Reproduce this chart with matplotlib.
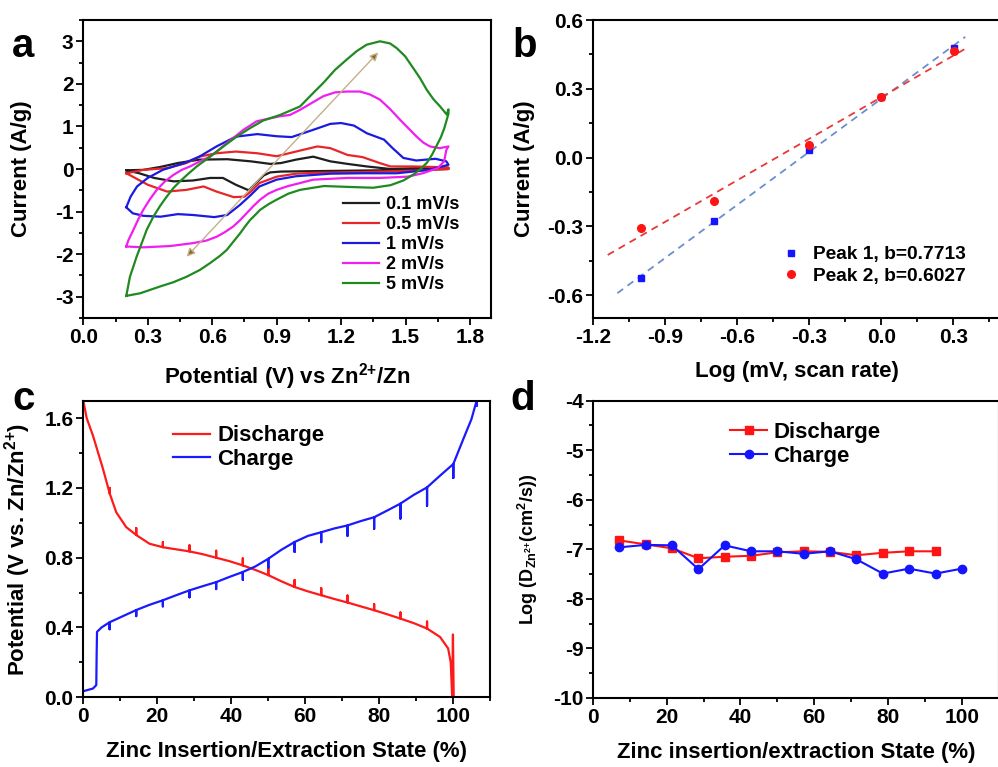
import numpy as np
import matplotlib
matplotlib.use('Agg')
import matplotlib.pyplot as plt
from matplotlib.ticker import MultipleLocator

plt.rcParams['font.family'] = ['Liberation Sans', 'DejaVu Sans']
plt.rcParams['font.weight'] = 'bold'
plt.rcParams['axes.labelweight'] = 'bold'
plt.rcParams['axes.unicode_minus'] = False
plt.rcParams['mathtext.fontset'] = 'custom'
plt.rcParams['mathtext.rm'] = 'Liberation Sans:bold'
plt.rcParams['mathtext.it'] = 'Liberation Sans:bold'
plt.rcParams['mathtext.bf'] = 'Liberation Sans:bold'
plt.rcParams['mathtext.default'] = 'rm'

# ---- panel a: CV curves, anodic branch (left->right) and cathodic branch (right->left)
cv_labels = ['0.1 mV/s', '0.5 mV/s', '1 mV/s', '2 mV/s', '5 mV/s']
cv_colors = ['#1e1e1e', '#e8262a', '#1a1ae0', '#f01ef0', '#1f8a1f']

cv01_up_x = [0.20, 0.28, 0.36, 0.44, 0.54, 0.67, 0.78, 0.87, 0.92, 0.99, 1.07, 1.15, 1.23, 1.32, 1.43, 1.55, 1.70]
cv01_up_y = [-0.03, -0.02, 0.05, 0.14, 0.22, 0.23, 0.18, 0.12, 0.14, 0.22, 0.29, 0.18, 0.12, 0.06, 0.0, 0.02, 0.03]
cv01_lo_x = [1.70, 1.55, 1.40, 1.23, 1.07, 0.92, 0.87, 0.84, 0.81, 0.78, 0.77, 0.71, 0.65, 0.59, 0.51, 0.42, 0.33, 0.26, 0.20]
cv01_lo_y = [0.0, -0.02, -0.03, -0.04, -0.05, -0.06, -0.08, -0.15, -0.30, -0.45, -0.50, -0.37, -0.21, -0.21, -0.27, -0.29, -0.21, -0.10, -0.03]

cv05_up_x = [0.20, 0.28, 0.39, 0.48, 0.54, 0.62, 0.71, 0.81, 0.90, 0.99, 1.09, 1.15, 1.23, 1.30, 1.38, 1.43, 1.54, 1.69, 1.70]
cv05_up_y = [-0.10, -0.02, 0.02, 0.14, 0.29, 0.37, 0.41, 0.37, 0.30, 0.41, 0.53, 0.49, 0.33, 0.28, 0.14, 0.06, 0.06, 0.04, 0.03]
cv05_lo_x = [1.70, 1.54, 1.38, 1.23, 1.07, 0.99, 0.90, 0.82, 0.78, 0.75, 0.70, 0.62, 0.56, 0.48, 0.39, 0.30, 0.23, 0.20]
cv05_lo_y = [0.0, -0.04, -0.06, -0.08, -0.09, -0.11, -0.18, -0.33, -0.53, -0.65, -0.66, -0.53, -0.41, -0.49, -0.53, -0.37, -0.18, -0.10]

cv1_up_x = [0.20, 0.22, 0.25, 0.30, 0.37, 0.47, 0.54, 0.62, 0.71, 0.81, 0.90, 0.97, 1.07, 1.15, 1.20, 1.26, 1.32, 1.40, 1.44, 1.49, 1.55, 1.64, 1.69, 1.70]
cv1_up_y = [-0.90, -0.65, -0.41, -0.21, -0.02, 0.14, 0.29, 0.53, 0.76, 0.82, 0.77, 0.75, 0.92, 1.06, 1.08, 1.02, 0.84, 0.69, 0.49, 0.26, 0.20, 0.24, 0.18, 0.10]
cv1_lo_x = [1.70, 1.61, 1.46, 1.30, 1.15, 0.99, 0.90, 0.82, 0.78, 0.73, 0.67, 0.61, 0.51, 0.44, 0.36, 0.28, 0.23, 0.20]
cv1_lo_y = [0.10, -0.02, -0.10, -0.10, -0.11, -0.17, -0.25, -0.41, -0.61, -0.84, -1.08, -1.13, -1.08, -1.06, -1.12, -1.10, -1.04, -0.90]

cv2_up_x = [0.20, 0.21, 0.233, 0.256, 0.279, 0.31, 0.342, 0.38, 0.419, 0.458, 0.497, 0.543, 0.59, 0.628, 0.668, 0.706,
            0.745, 0.807, 0.86, 0.916, 0.962, 1.009, 1.063, 1.117, 1.172, 1.226, 1.288, 1.335, 1.381, 1.428, 1.474,
            1.513, 1.552, 1.583, 1.614, 1.66, 1.70]
cv2_up_y = [-1.82, -1.67, -1.43, -1.18, -0.96, -0.71, -0.49, -0.29, -0.14, -0.02, 0.06, 0.18, 0.29, 0.44, 0.61, 0.76,
            0.92, 1.12, 1.18, 1.24, 1.27, 1.39, 1.55, 1.71, 1.80, 1.82, 1.82, 1.75, 1.63, 1.41, 1.16,
            0.96, 0.76, 0.62, 0.53, 0.49, 0.53]
cv2_lo_x = [1.70, 1.69, 1.68, 1.65, 1.58, 1.51, 1.38, 1.23, 1.07, 1.009, 0.954, 0.90, 0.861, 0.823, 0.792, 0.76, 0.73,
            0.698, 0.66, 0.621, 0.574, 0.512, 0.404, 0.279, 0.20]
cv2_lo_y = [0.53, 0.45, 0.18, 0.02, -0.10, -0.18, -0.21, -0.21, -0.25, -0.33, -0.40, -0.49, -0.58, -0.72, -0.87, -1.04, -1.20,
            -1.35, -1.48, -1.59, -1.68, -1.74, -1.81, -1.84, -1.82]

cv5_up_x = [0.20, 0.217, 0.233, 0.248, 0.272, 0.295, 0.326, 0.357, 0.388, 0.419, 0.45, 0.489, 0.528, 0.574, 0.621,
            0.668, 0.714, 0.776, 0.838, 0.916, 1.009, 1.071, 1.117, 1.172, 1.226, 1.273, 1.319, 1.381, 1.428,
            1.459, 1.498, 1.536, 1.567, 1.599, 1.63, 1.661, 1.692, 1.70]
cv5_up_y = [-2.98, -2.53, -2.29, -2.06, -1.74, -1.43, -1.12, -0.87, -0.65, -0.45, -0.29, -0.11, 0.06, 0.23, 0.41,
            0.59, 0.76, 0.96, 1.14, 1.27, 1.47, 1.79, 2.02, 2.33, 2.57, 2.77, 2.92, 3.00, 2.95,
            2.84, 2.65, 2.37, 2.14, 1.86, 1.64, 1.47, 1.28, 1.40]
cv5_lo_x = [1.70, 1.69, 1.68, 1.665, 1.645, 1.625, 1.60, 1.57, 1.54, 1.49, 1.43, 1.35, 1.23, 1.12, 1.009, 0.954, 0.90,
            0.861, 0.823, 0.80, 0.776, 0.753, 0.73, 0.698, 0.668, 0.636, 0.59, 0.543, 0.481, 0.419, 0.357, 0.264, 0.20]
cv5_lo_y = [1.30, 1.12, 0.95, 0.75, 0.55, 0.35, 0.15, 0.0, -0.12, -0.27, -0.38, -0.44, -0.42, -0.40, -0.49, -0.58, -0.72,
            -0.83, -0.96, -1.08, -1.20, -1.35, -1.51, -1.71, -1.90, -2.04, -2.21, -2.37, -2.53, -2.66, -2.76, -2.92, -2.98]

# ---- panel b: log(peak current) vs log(scan rate)
log_rate = [-1.0, -0.699, -0.301, 0.0, 0.301]
peak1 = [-0.525, -0.277, 0.034, 0.263, 0.477]
peak2 = [-0.306, -0.188, 0.056, 0.263, 0.466]

# ---- panel c: GITT profile (base points + relaxation spike height at each step)
dis_x = [0, 0.9, 2.6, 5.3, 7.1, 8.9, 11.6, 14.3, 17.9, 21.5, 25.1, 28.7, 32.3, 35.9, 39.5, 43.1, 46.5, 50.0,
         53.5, 57.1, 60.7, 64.3, 67.9, 71.4, 75.0, 78.6, 82.1, 85.7, 89.3, 92.9, 96.4, 98.6, 99.3, 99.7, 99.9, 100.1]
dis_y = [1.70, 1.60, 1.50, 1.31, 1.17, 1.06, 0.975, 0.93, 0.88, 0.86, 0.848, 0.836, 0.82, 0.80, 0.78, 0.756, 0.73, 0.70,
         0.665, 0.632, 0.607, 0.585, 0.563, 0.543, 0.521, 0.499, 0.476, 0.451, 0.425, 0.394, 0.346, 0.28, 0.20, 0.0, 0.36, 0.0]
dis_spike = [0, 0, 0, 0, 0.03, 0, 0, 0.04, 0, 0.03, 0, 0.035, 0, 0.04, 0, 0.04, 0, 0.045,
             0, 0.04, 0, 0.04, 0, 0.04, 0, 0.035, 0, 0.035, 0, 0.04, 0, 0, 0, 0, 0, 0]

chg_x = [0, 2.6, 3.5, 3.6, 3.7, 4.9, 7.1, 10.7, 14.3, 17.9, 21.5, 25.1, 28.7, 32.3, 35.9, 39.5, 43.1, 46.5, 50.0,
         53.5, 57.1, 60.7, 64.3, 67.9, 71.4, 75.0, 78.6, 82.1, 85.7, 89.3, 92.9, 96.4, 100.0, 102.7, 104.9, 106.3, 107.0]
chg_y = [0.035, 0.05, 0.07, 0.25, 0.375, 0.40, 0.43, 0.465, 0.50, 0.53, 0.556, 0.585, 0.613, 0.637, 0.66, 0.69, 0.718, 0.75, 0.794,
         0.845, 0.89, 0.925, 0.946, 0.968, 0.985, 1.01, 1.032, 1.07, 1.11, 1.16, 1.203, 1.27, 1.337, 1.48, 1.594, 1.70, 1.75]
chg_spike = [0, 0, 0, 0, 0, 0, -0.04, 0, -0.035, 0, -0.035, 0, -0.04, 0, -0.04, 0, -0.045, 0, -0.05,
             0, -0.057, 0, -0.057, 0, -0.06, 0, -0.067, 0, -0.086, 0, -0.105, 0, -0.08, 0, 0, -0.03, 0]

# ---- panel d: diffusion coefficient
state = [7.1, 14.3, 21.4, 28.6, 35.7, 42.9, 50.0, 57.1, 64.3, 71.4, 78.6, 85.7, 92.9, 100.0]
logD_dis = [-6.82, -6.90, -6.98, -7.18, -7.15, -7.13, -7.06, -7.04, -7.05, -7.12, -7.07, -7.04, -7.04]
logD_chg = [-6.96, -6.91, -6.92, -7.40, -6.92, -7.04, -7.04, -7.09, -7.04, -7.20, -7.49, -7.39, -7.49, -7.39]


def style(ax):
    ax.tick_params(which='both', direction='out', top=False, right=False, labelsize=15, width=1.3, pad=2)
    ax.tick_params(which='major', length=5)
    ax.tick_params(which='minor', length=3)
    for s in ax.spines.values():
        s.set_linewidth(1.5)


def with_spikes(xs, ys, spikes):
    px, py = [], []
    for x, y, s in zip(xs, ys, spikes):
        px.append(x)
        py.append(y)
        if s != 0:
            px += [x, x]
            py += [y + s, y]
    return px, py


fig = plt.figure(figsize=(9.98, 7.67), dpi=100)

# ---------------- a
ax = fig.add_axes([0.0835, 0.5854, 0.4089, 0.3885])
cv_sets = [(cv01_up_x, cv01_up_y, cv01_lo_x, cv01_lo_y),
           (cv05_up_x, cv05_up_y, cv05_lo_x, cv05_lo_y),
           (cv1_up_x, cv1_up_y, cv1_lo_x, cv1_lo_y),
           (cv2_up_x, cv2_up_y, cv2_lo_x, cv2_lo_y),
           (cv5_up_x, cv5_up_y, cv5_lo_x, cv5_lo_y)]
for (ux, uy, lx, ly), c, lab in zip(cv_sets, cv_colors, cv_labels):
    ax.plot(ux + lx, uy + ly, color=c, lw=1.6, label=lab, solid_joinstyle='round')
ax.annotate('', xy=(1.373, 2.74), xytext=(0.481, -2.06),
            arrowprops=dict(arrowstyle='<|-|>', ec='#c4b08a', fc='#8a6a20', lw=1.0,
                            mutation_scale=12, shrinkA=0, shrinkB=0))
ax.set_xlim(0, 1.9)
ax.set_ylim(-3.5, 3.5)
ax.xaxis.set_minor_locator(MultipleLocator(0.15))
ax.yaxis.set_major_locator(MultipleLocator(1))
ax.yaxis.set_minor_locator(MultipleLocator(0.5))
ax.set_xticks(np.arange(0, 1.81, 0.3))
ax.set_xticklabels(['0.0', '0.3', '0.6', '0.9', '1.2', '1.5', '1.8'])
style(ax)
ax.set_xlabel('Potential (V) vs Zn$^{2{+}}$/Zn', fontsize=16)
ax.set_ylabel('Current (A/g)', fontsize=16)
ax.xaxis.set_label_coords(0.5, -0.145)
ax.yaxis.set_label_coords(-0.125, 0.5)
ax.legend(loc='upper left', bbox_to_anchor=(0.636, 0.41), frameon=False, fontsize=13,
          borderpad=0, handlelength=2.0, handletextpad=0.4, labelspacing=0.17, borderaxespad=0)

# ---------------- b
ax = fig.add_axes([0.5945, 0.5854, 0.4088, 0.3885])
fx1 = np.array([-1.10, 0.35])
fx2 = np.array([-1.14, 0.35])
k1 = np.polyfit(log_rate, peak1, 1)
k2 = np.polyfit(log_rate, peak2, 1)
ax.plot(fx1, np.polyval(k1, fx1), color='#6a8fd0', lw=1.3, ls=(0, (4, 3)))
ax.plot(fx2, np.polyval(k2, fx2), color='#e8393a', lw=1.3, ls=(0, (4, 3)))
ax.plot(log_rate, peak1, 's', color='#1414ff', ms=5, label='Peak 1, b=0.7713')
ax.plot(log_rate, peak2, 'o', color='#ff1414', ms=5.5, label='Peak 2, b=0.6027')
ax.set_xlim(-1.2, 0.5)
ax.set_ylim(-0.7, 0.6)
ax.xaxis.set_minor_locator(MultipleLocator(0.15))
ax.yaxis.set_minor_locator(MultipleLocator(0.15))
ax.set_xticks(np.arange(-1.2, 0.31, 0.3))
ax.set_xticklabels(['-1.2', '-0.9', '-0.6', '-0.3', '0.0', '0.3'])
ax.set_yticks(np.arange(-0.6, 0.61, 0.3))
ax.set_yticklabels(['-0.6', '-0.3', '0.0', '0.3', '0.6'])
style(ax)
ax.set_xlabel('Log (mV, scan rate)', fontsize=16)
ax.set_ylabel('Current (A/g)', fontsize=16)
ax.xaxis.set_label_coords(0.5, -0.145)
ax.yaxis.set_label_coords(-0.143, 0.5)
ax.legend(loc='upper left', bbox_to_anchor=(0.461, 0.242), frameon=False, fontsize=13.8,
          borderpad=0, handlelength=1.0, handletextpad=0.65, labelspacing=0.2, borderaxespad=0)

# ---------------- c
ax = fig.add_axes([0.0835, 0.0909, 0.4078, 0.3867])
dx, dy = with_spikes(dis_x, dis_y, dis_spike)
cx, cy = with_spikes(chg_x, chg_y, chg_spike)
ax.plot(dx, dy, color='#ff1a1a', lw=1.6, label='Discharge')
ax.plot(cx, cy, color='#1a1aff', lw=1.6, label='Charge')
ax.set_xlim(0, 110)
ax.set_ylim(0, 1.7)
ax.xaxis.set_minor_locator(MultipleLocator(10))
ax.set_xticks([0, 20, 40, 60, 80, 100])
ax.set_yticks([0, 0.4, 0.8, 1.2, 1.6])
ax.set_yticklabels(['0.0', '0.4', '0.8', '1.2', '1.6'])
ax.yaxis.set_minor_locator(MultipleLocator(0.2))
style(ax)
ax.set_xlabel('Zinc Insertion/Extraction State (%)', fontsize=16)
ax.set_ylabel('Potential (V vs. Zn/Zn$^{2{+}}$)', fontsize=16)
ax.xaxis.set_label_coords(0.5, -0.147)
ax.yaxis.set_label_coords(-0.124, 0.5)
ax.legend(loc='upper left', bbox_to_anchor=(0.220, 0.917), frameon=False, fontsize=16,
          borderpad=0, handlelength=1.67, handletextpad=0.32, labelspacing=0.11, borderaxespad=0)

# ---------------- d
ax = fig.add_axes([0.5942, 0.0900, 0.4064, 0.3876])
ax.plot(state[:len(logD_dis)], logD_dis, '-s', color='#ff1414', lw=1.5, ms=6, label='Discharge')
ax.plot(state, logD_chg, '-o', color='#1414ff', lw=1.5, ms=6, label='Charge')
ax.set_xlim(0, 110)
ax.set_ylim(-10, -4)
ax.set_xticks([0, 20, 40, 60, 80, 100])
ax.xaxis.set_minor_locator(MultipleLocator(10))
ax.yaxis.set_major_locator(MultipleLocator(1))
ax.yaxis.set_minor_locator(MultipleLocator(0.5))
style(ax)
ax.set_xlabel('Zinc insertion/extraction State (%)', fontsize=16)
ax.set_ylabel('Log (D$_{Zn^{2{+}}}$(cm$^{2}$/s))', fontsize=13)
ax.xaxis.set_label_coords(0.5, -0.147)
ax.yaxis.set_label_coords(-0.131, 0.5)
ax.legend(loc='upper left', bbox_to_anchor=(0.338, 0.928), frameon=False, fontsize=16,
          borderpad=0, handlelength=1.67, handletextpad=0.27, labelspacing=0.11, borderaxespad=0)

# panel letters
for x, y, t in [(0.012, 0.926, 'a'), (0.513, 0.926, 'b'), (0.012, 0.466, 'c'), (0.511, 0.466, 'd')]:
    fig.text(x, y, t, fontsize=29, fontweight='bold', va='baseline', ha='left')

fig.savefig('out.png', dpi=100)
